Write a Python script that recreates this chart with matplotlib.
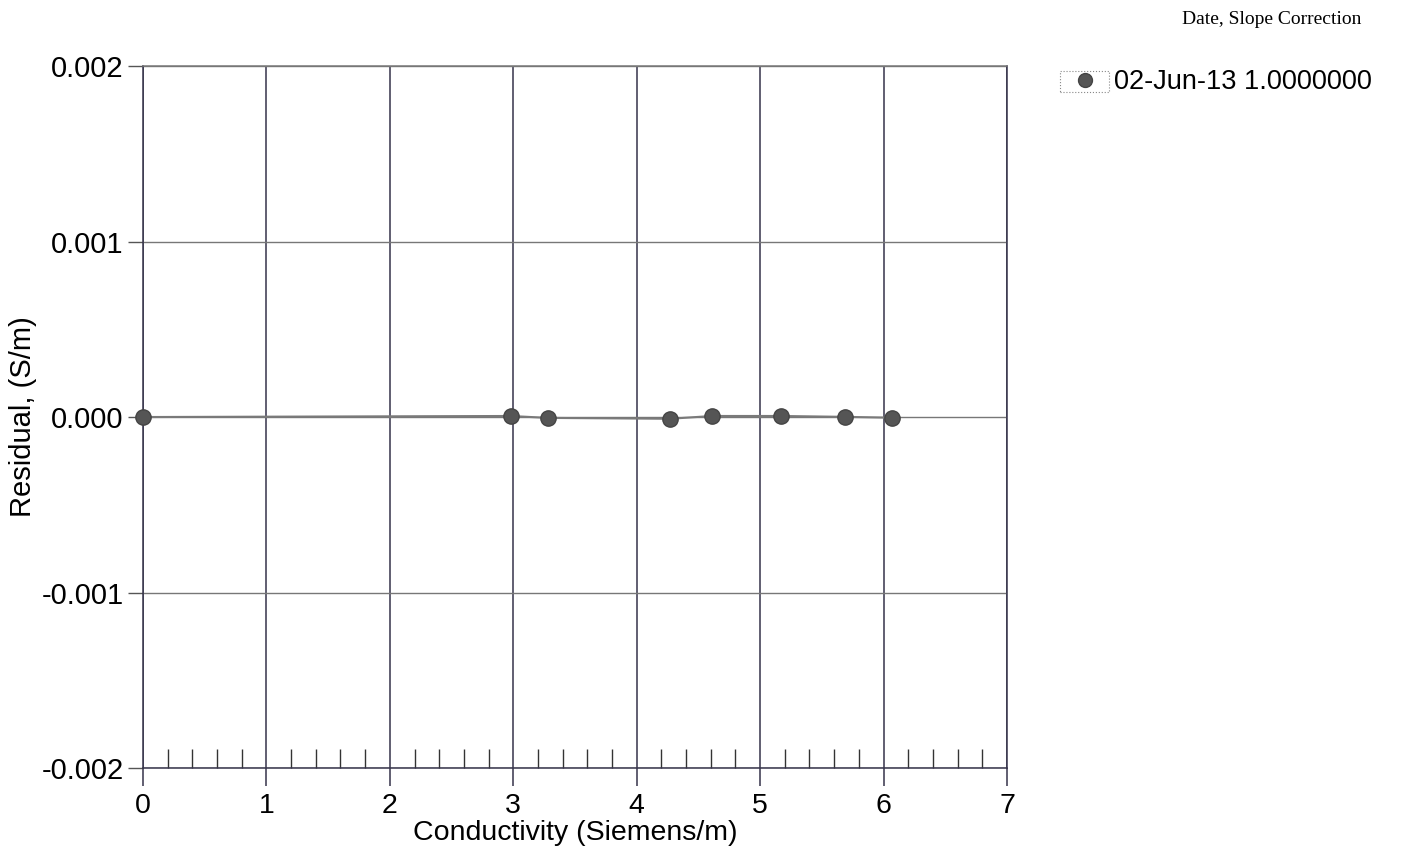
import matplotlib.pyplot as plt
import numpy as np

# data
conductivity = [0.0, 2.98, 3.28, 4.27, 4.61, 5.17, 5.69, 6.07]
residual = [0.0, 0.000006, -0.000005, -0.000010, 0.000006, 0.000006, 0.000001, -0.000004]
legend_label = '02-Jun-13 1.0000000'
legend_title = 'Date, Slope Correction'

x_ticks = [0, 1, 2, 3, 4, 5, 6, 7]
y_ticks = [-0.002, -0.001, 0.0, 0.001, 0.002]
y_labels = ['-0.002', '-0.001', '0.000', '0.001', '0.002']

plt.rcParams['font.family'] = ['Liberation Sans', 'DejaVu Sans']

fig = plt.figure(figsize=(14.06, 8.51), dpi=100)
ax = fig.add_axes([0.1017, 0.0975, 0.6145, 0.8249])

ax.plot(conductivity, residual, color='#7a7a7a', lw=1.5, zorder=3)
ax.plot(conductivity, residual, 'o', color='#555555', markersize=11,
        markeredgecolor='#444444', zorder=4, clip_on=False, label=legend_label)

ax.set_xlim(0, 7)
ax.set_ylim(-0.002, 0.002)
ax.set_xticks(x_ticks)
ax.set_xticklabels([str(t) for t in x_ticks])
ax.set_xticks(np.arange(0.2, 7, 0.2), minor=True)
ax.set_yticks(y_ticks)
ax.set_yticklabels(y_labels)

ax.grid(True, axis='x', which='major', color='#35334a', lw=1.1)
ax.grid(True, axis='y', which='major', color='#777777', lw=1.0)

ax.tick_params(axis='x', which='major', direction='out', length=13, width=1.1,
               color='#35334a', labelsize=20.5, pad=5)
ax.tick_params(axis='x', which='minor', direction='in', length=14, width=1.0,
               color='#333333')
ax.tick_params(axis='y', which='major', direction='out', length=11, width=1.0,
               color='#555555', labelsize=21, pad=3)
for s in ax.spines.values():
    s.set_color('#35334a')
    s.set_linewidth(1.1)
ax.spines['top'].set_color('#777777')

ax.set_xlabel('Conductivity (Siemens/m)', fontsize=20.5, labelpad=1)
ax.set_ylabel('Residual, (S/m)', fontsize=21, labelpad=3)

fig.text(0.968, 0.977, legend_title, family='Liberation Serif', fontsize=14,
         ha='right', va='center')
leg = ax.legend(loc='center left', bbox_to_anchor=(1.0758, 0.977), fontsize=19.5,
                frameon=False, handlelength=0.95, handletextpad=0.6,
                borderpad=0, borderaxespad=0)
leg.legend_handles[0].set_markersize(10)
# small dotted box round the legend marker
fig.patches.append(plt.Rectangle((0.754, 0.892), 0.035, 0.025, transform=fig.transFigure,
                                 fill=False, ec='#888888', lw=0.8, ls=':'))

fig.savefig('out.png', dpi=100)
